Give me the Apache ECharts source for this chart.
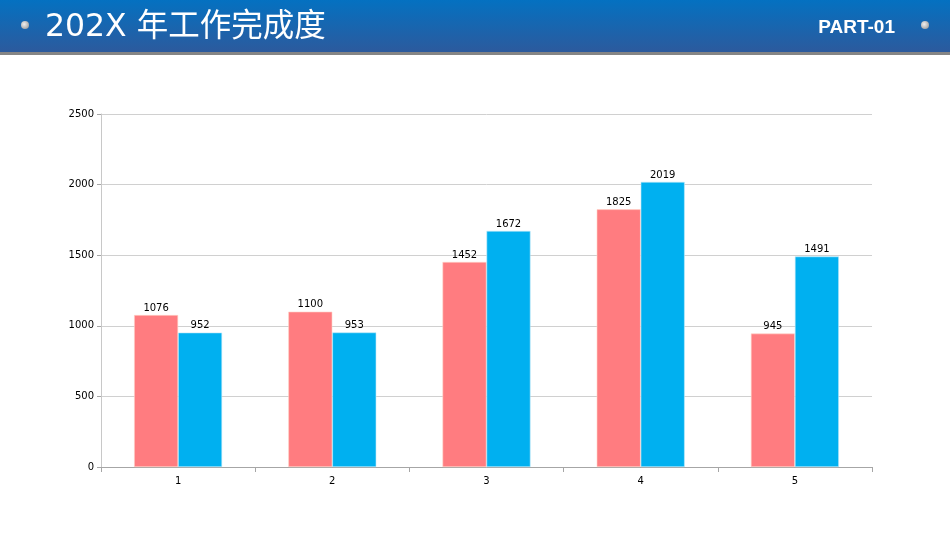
<!DOCTYPE html>
<html><head><meta charset="utf-8">
<script src="https://cdn.jsdelivr.net/npm/echarts@6/dist/echarts.min.js"></script>
<style>html,body{margin:0;padding:0;background:#fff;}#c{width:950px;height:535px;}</style>
</head><body><div id="c"></div>
<script>
var categories = ['1','2','3','4','5'];
var seriesA = [1076, 1100, 1452, 1825, 945];
var seriesB = [952, 953, 1672, 2019, 1491];
var yTicks = {min:0, max:2500, interval:500};
var titleText = '202X 年工作完成度';
var partText = 'PART-01';

var chart = echarts.init(document.getElementById('c'), null, {renderer:'canvas'});
var lbl = {show:true, position:'top', color:'#000', fontSize:10, fontFamily:'DejaVu Sans', distance:2};
chart.setOption({
  animation:false,
  graphic:[
    {type:'rect', shape:{x:0,y:0,width:950,height:52}, style:{fill:new echarts.graphic.LinearGradient(0,0,0,1,[{offset:0,color:'#0471c1'},{offset:1,color:'#2c5a9d'}])}},
    {type:'rect', shape:{x:0,y:52,width:950,height:3}, style:{fill:'#858585'}},
    {type:'circle', shape:{cx:25,cy:25,r:4}, style:{fill:new echarts.graphic.RadialGradient(0.4,0.4,0.6,[{offset:0,color:'#f0f0f0'},{offset:1,color:'#a8a8a8'}])}},
    {type:'circle', shape:{cx:925,cy:25,r:4}, style:{fill:new echarts.graphic.RadialGradient(0.4,0.4,0.6,[{offset:0,color:'#f0f0f0'},{offset:1,color:'#a8a8a8'}])}},
    {type:'text', x:45, y:28, style:{text:titleText, fill:'#fff', font:'31.5px "DejaVu Sans", "Noto Sans CJK SC", sans-serif', verticalAlign:'middle', align:'left'}},
    {type:'text', x:895, y:28, style:{text:partText, fill:'#fff', font:'bold 19px "Liberation Sans", Arial, sans-serif', verticalAlign:'middle', align:'right'}}
  ],
  grid:{left:101, right:78, top:114, bottom:68, containLabel:false},
  xAxis:{type:'category', data:categories,
    axisLine:{lineStyle:{color:'#a6a6a6'}},
    axisTick:{show:true, alignWithLabel:false, length:5, lineStyle:{color:'#a6a6a6'}},
    axisLabel:{color:'#000', fontSize:10, fontFamily:'DejaVu Sans', margin:9}},
  yAxis:{type:'value', min:yTicks.min, max:yTicks.max, interval:yTicks.interval,
    axisLine:{show:true, lineStyle:{color:'#c8c8c8'}},
    axisTick:{show:true, length:4, lineStyle:{color:'#a6a6a6'}},
    splitLine:{lineStyle:{color:'#d0d0d0'}},
    axisLabel:{color:'#000', fontSize:10, fontFamily:'DejaVu Sans', margin:7, formatter:function(v){return String(v);}}},
  series:[
    {type:'bar', data:seriesA, barWidth:44, barGap:'0%', itemStyle:{color:'#ff7c80', borderColor:'#ffd3c8', borderWidth:0.6}, label:lbl},
    {type:'bar', data:seriesB, barWidth:44, barGap:'0%', itemStyle:{color:'#00b0f0', borderColor:'#bfe9f8', borderWidth:0.6}, label:lbl}
  ]
});
</script></body></html>
